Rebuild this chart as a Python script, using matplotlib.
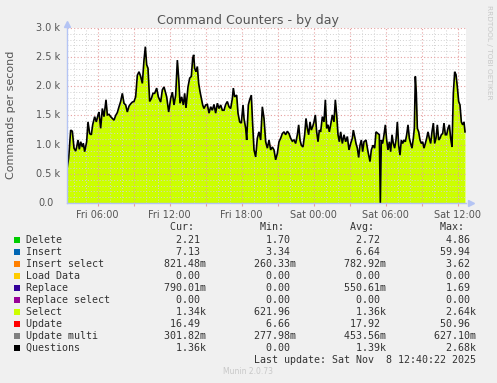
import matplotlib
matplotlib.use("Agg")
import matplotlib.pyplot as plt
from matplotlib.patches import Rectangle

# ── data (hours since Fri 00:00, commands/s in thousands) ──────────
hours = [
    3.486, 3.597, 3.764, 3.903, 4.042, 4.18, 4.264, 4.375, 4.486, 4.597,
    4.736, 4.819, 4.93, 5.097, 5.208, 5.347, 5.486, 5.597, 5.764, 5.903,
    6.042, 6.125, 6.264, 6.403, 6.542, 6.708, 6.819, 6.958, 7.097, 7.236,
    7.375, 7.514, 7.653, 7.792, 7.93, 8.069, 8.208, 8.347, 8.486, 8.625,
    8.764, 8.903, 9.042, 9.18, 9.319, 9.458, 9.597, 9.736, 9.875, 9.986,
    10.097, 10.208, 10.347, 10.486, 10.625, 10.764, 10.93, 11.069, 11.264, 11.403,
    11.542,
    11.764, 11.931, 12.097, 12.236, 12.375, 12.514, 12.653, 12.764, 12.875, 13.014,
    13.153, 13.264, 13.375, 13.542, 13.681, 13.82, 13.931, 14.014, 14.097, 14.208,
    14.319, 14.431, 14.542, 14.653, 14.764, 14.875, 15.014, 15.153, 15.292, 15.431,
    15.569, 15.708, 15.847, 15.986, 16.125, 16.264, 16.403, 16.542, 16.681, 16.819,
    16.958, 17.097, 17.236, 17.319, 17.431, 17.597, 17.708, 17.847, 17.986, 18.125,
    18.208, 18.347, 18.431, 18.569, 18.681, 18.819, 18.931, 19.042, 19.181, 19.319,
    19.458, 19.597, 19.736, 19.875,
    20.014, 20.153, 20.292, 20.431, 20.569, 20.708, 20.847, 20.986, 21.125, 21.264,
    21.403, 21.542, 21.681, 21.819, 21.958, 22.097, 22.236, 22.375, 22.514, 22.653,
    22.764, 22.875, 22.986, 23.125, 23.264, 23.375, 23.486, 23.597, 23.708, 23.819,
    23.931, 24.042, 24.153, 24.264, 24.375, 24.486, 24.597, 24.736, 24.875, 24.986,
    25.097, 25.208, 25.319, 25.431, 25.569, 25.708, 25.819, 25.931, 26.042, 26.153,
    26.264, 26.403, 26.542, 26.681, 26.819, 26.958, 27.097, 27.236, 27.319, 27.431,
    27.542, 27.653, 27.764, 27.875, 27.986, 28.097, 28.208,
    28.375, 28.542, 28.708, 28.819, 28.958, 29.097, 29.208, 29.375, 29.486, 29.569,
    29.653, 29.764, 29.875, 29.986, 30.097, 30.208, 30.319, 30.431, 30.542, 30.653,
    30.764, 30.875, 30.986, 31.097, 31.208, 31.319, 31.431, 31.542, 31.653, 31.764,
    31.875, 31.986, 32.097, 32.208, 32.319, 32.403, 32.486, 32.569, 32.653, 32.764,
    32.875, 32.986, 33.097, 33.208, 33.319, 33.431, 33.542, 33.653, 33.764, 33.875,
    33.986, 34.097, 34.208, 34.319, 34.431, 34.542, 34.653, 34.764, 34.875, 34.986,
    35.097, 35.208, 35.319, 35.431, 35.542, 35.653, 35.764, 35.875, 35.986, 36.097,
    36.208, 36.319, 36.431, 36.542, 36.625,
]
questions = [
    0.62, 0.77, 1.25, 1.23, 0.94, 0.89, 0.96, 1.08, 0.92, 1.05,
    0.96, 1.02, 0.88, 1.05, 1.39, 1.19, 1.17, 1.34, 1.48, 1.39,
    1.51, 1.56, 1.28, 1.62, 1.48, 1.77, 1.51, 1.52, 1.48, 1.45,
    1.42, 1.50, 1.55, 1.65, 1.74, 1.88, 1.71, 1.68, 1.56, 1.66,
    1.70, 1.73, 1.74, 1.82, 2.19, 2.25, 2.17, 2.05, 2.45, 2.68,
    2.37, 2.31, 1.74, 1.79, 1.88, 1.88, 1.97, 1.82, 1.73, 1.94,
    1.99,
    1.82, 1.56, 1.79, 1.90, 1.68, 1.85, 2.45, 2.14, 1.71, 1.82,
    1.68, 1.88, 1.63, 1.99, 2.14, 2.17, 2.48, 2.54, 2.31, 2.25,
    2.34, 2.05, 1.91, 1.79, 1.68, 1.62, 1.68, 1.69, 1.54, 1.65,
    1.59, 1.69, 1.54, 1.71, 1.62, 1.68, 1.59, 1.59, 1.69, 1.74,
    1.65, 1.62, 1.79, 1.97, 1.82, 1.85, 1.54, 1.39, 1.37, 1.68,
    1.45, 1.28, 1.08, 1.68, 1.77, 1.85, 1.34, 0.91, 0.79, 1.11,
    1.22, 1.08, 1.65, 1.45,
    1.05, 0.94, 1.08, 0.91, 0.96, 0.91, 0.74, 0.85, 1.05, 1.11,
    1.19, 1.22, 1.17, 1.23, 1.19, 1.11, 1.06, 1.08, 1.02, 1.17,
    1.34, 1.08, 0.99, 0.96, 1.17, 1.45, 1.28, 1.17, 1.39, 1.25,
    1.31, 1.39, 1.51, 1.22, 1.05, 1.25, 1.22, 1.48, 1.39, 1.77,
    1.28, 1.34, 1.22, 1.34, 1.51, 1.39, 1.77, 1.51, 1.17, 1.05,
    1.22, 1.02, 1.17, 1.05, 1.14, 0.91, 1.02, 1.11, 1.25, 1.14,
    1.02, 0.94, 0.78, 0.99, 1.08, 0.88, 1.05,
    1.08, 0.88, 0.71, 0.91, 0.99, 0.94, 1.22, 1.19, 1.17, 0.00,
    1.08, 1.02, 1.17, 1.34, 1.08, 0.91, 1.05, 0.88, 1.17, 1.02,
    0.94, 1.08, 1.39, 0.99, 0.82, 1.08, 1.02, 1.08, 1.05, 1.17,
    1.34, 1.11, 1.02, 0.94, 1.11, 1.28, 2.17, 1.88, 1.28, 1.22,
    1.08, 1.02, 1.05, 0.94, 1.02, 1.11, 1.22, 1.11, 1.02, 1.22,
    1.37, 1.02, 1.11, 1.34, 1.08, 1.11, 1.17, 1.19, 1.37, 1.17,
    1.17, 1.28, 1.34, 1.11, 0.96, 1.88, 2.25, 2.20, 1.99, 1.74,
    1.68, 1.39, 1.34, 1.39, 1.22,
]

x_major_ticks = [6, 9, 12, 15, 18, 21, 24, 27, 30, 33, 36]
x_tick_labels = ["Fri 06:00", "", "Fri 12:00", "", "Fri 18:00", "",
                 "Sat 00:00", "", "Sat 06:00", "", "Sat 12:00"]
y_ticks = [0.0, 0.5, 1.0, 1.5, 2.0, 2.5, 3.0]
y_tick_labels = ["0.0", "0.5 k", "1.0 k", "1.5 k", "2.0 k", "2.5 k", "3.0 k"]

names = ["Delete", "Insert", "Insert select", "Load Data", "Replace",
         "Replace select", "Select", "Update", "Update multi", "Questions"]
colors = ["#00CC00", "#0066B3", "#FF8000", "#FFCC00", "#330099",
          "#990099", "#CCFF00", "#FF0000", "#808080", "#000000"]
cur_vals = ["2.21 ", "7.13 ", "821.48m", "0.00 ", "790.01m", "0.00 ",
            "1.34k", "16.49 ", "301.82m", "1.36k"]
min_vals = ["1.70 ", "3.34 ", "260.33m", "0.00 ", "0.00 ", "0.00 ",
            "621.96 ", "6.66 ", "277.98m", "0.00 "]
avg_vals = ["2.72 ", "6.64 ", "782.92m", "0.00 ", "550.61m", "0.00 ",
            "1.36k", "17.92 ", "453.56m", "1.39k"]
max_vals = ["4.86 ", "59.94 ", "3.62 ", "0.00 ", "1.69 ", "0.00 ",
            "2.64k", "50.96 ", "627.10m", "2.68k"]

# ── layout (pixels) ────────────────────────────────────────────────
W, H = 497, 383
L, R, T, B = 67, 466, 28, 203
BG = "#F0F0F0"
MAJOR = "#E6A0A0"
MINOR = "#D2D2D2"
AXIS = "#B4C4F4"
TXT = "#555555"

fig = plt.figure(figsize=(W / 100, H / 100), dpi=100, facecolor=BG)
ax = fig.add_axes([L / W, 1 - B / H, (R - L) / W, (B - T) / H])
ax.set_facecolor("white")

ax.fill_between(hours, questions, 0, color="#CCFF00", lw=0, zorder=1)
ax.plot(hours, questions, color="black", lw=1.2, zorder=3,
        solid_joinstyle="miter")

ax.set_xlim(3.458, 36.708)
ax.set_ylim(0, 3.0)

ax.set_xticks(x_major_ticks)
ax.set_xticklabels(x_tick_labels)
ax.set_xticks(range(4, 37), minor=True)
ax.set_yticks(y_ticks)
ax.set_yticklabels([])
ax.set_yticks([i / 10 for i in range(31)], minor=True)

ax.set_axisbelow(False)
ax.grid(True, which="minor", color=MINOR, ls=(0, (1, 2)), lw=0.7, zorder=2)
ax.grid(True, which="major", color=MAJOR, ls=(0, (1, 2)), lw=0.8, zorder=2)

ax.tick_params(axis="x", which="major", length=2.5, color=MAJOR, width=0.8,
               labelsize=7, labelcolor=TXT, pad=2.5)
ax.tick_params(axis="x", which="minor", length=0)
ax.tick_params(axis="y", which="both", length=0)

for sp in ["top", "right"]:
    ax.spines[sp].set_visible(False)
for sp in ["left", "bottom"]:
    ax.spines[sp].set_color(AXIS)
    ax.spines[sp].set_linewidth(1.0)
    ax.spines[sp].set_zorder(4)

# y tick labels (munin style: "0.0" sits a bit left)
ytrans = ax.get_yaxis_transform()
for v, lab in zip(y_ticks, y_tick_labels):
    off = 13 if lab == "0.0" else 7
    ax.text(-off / (R - L), v, lab, transform=ytrans, ha="right", va="center",
            fontsize=7, color=TXT)

# ── overlay in pixel coordinates ───────────────────────────────────
ov = fig.add_axes([0, 0, 1, 1], zorder=5)
ov.set_xlim(0, W)
ov.set_ylim(H, 0)
ov.axis("off")

# axis arrows
ov.plot([R + 5], [B], marker=">", color=AXIS, ms=4, mec=AXIS)
ov.plot([L], [T - 4], marker="^", color=AXIS, ms=4, mec=AXIS)

ov.text(248, 24, "Command Counters - by day", ha="center", va="baseline",
        fontsize=9.1, color=TXT)
ov.text(11, 115, "Commands per second", rotation=90, ha="center",
        va="center", fontsize=8, color=TXT)
ov.text(489, 52, "RRDTOOL / TOBI OETIKER", rotation=270, ha="center",
        va="center", fontsize=5.3, color="#C8C8C8")

mono = dict(family="DejaVu Sans Mono", fontsize=7.2, color="#333333",
            va="center", ha="left")
x0 = 26.3
header = " " * 24 + "Cur:" + " " * 11 + "Min:" + " " * 11 + "Avg:" + " " * 11 + "Max:"
ov.text(x0, 227.5, header, **mono)
for i, name in enumerate(names):
    y = 240 + 12 * i
    ov.add_patch(Rectangle((14, y - 3), 6, 6, color=colors[i], lw=0))
    row = (f"{name:<22}{cur_vals[i]:>8}{min_vals[i]:>15}"
           f"{avg_vals[i]:>15}{max_vals[i]:>15}")
    ov.text(x0, y, row, **mono)
last = "Last update: Sat Nov  8 12:40:22 2025"
ov.text(x0, 360, f"{last:>75}", **mono)
ov.text(248, 372, "Munin 2.0.73", ha="center", va="center", fontsize=5.5,
        color="#C8C8C8")

fig.savefig("out.png", dpi=100, facecolor=BG)
